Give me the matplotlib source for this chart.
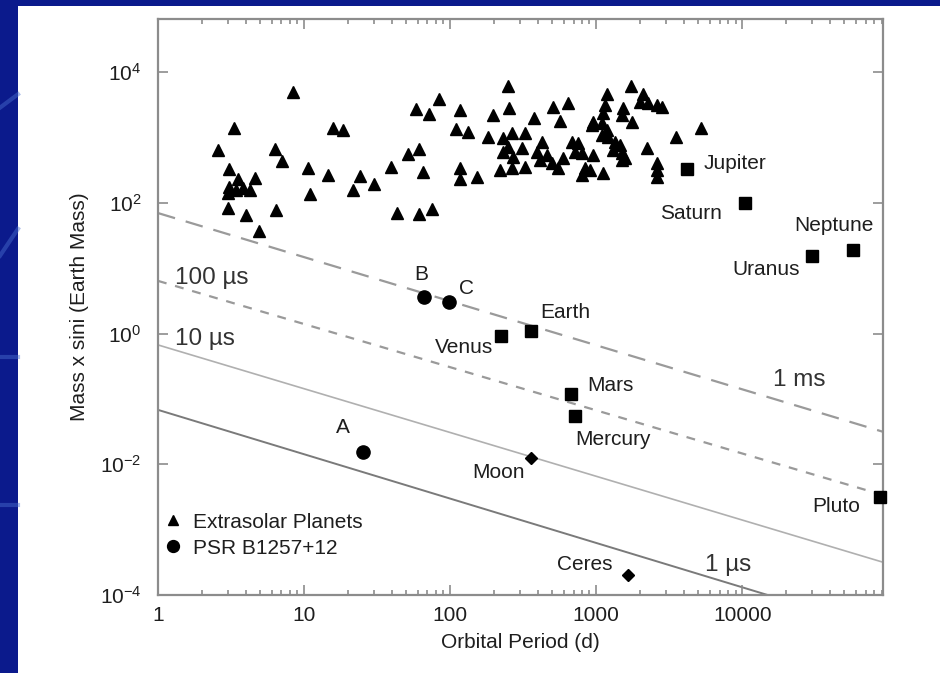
import matplotlib
matplotlib.use("Agg")
import matplotlib.pyplot as plt
from matplotlib.patches import Rectangle
from matplotlib.lines import Line2D
from matplotlib.ticker import LogLocator, NullLocator, NullFormatter

plt.rcParams['font.family'] = ['Liberation Sans', 'DejaVu Sans']
plt.rcParams['mathtext.fontset'] = 'custom'
plt.rcParams['mathtext.rm'] = 'Liberation Sans'
plt.rcParams['mathtext.it'] = 'Liberation Sans'

# ---------------- data ----------------
ext_P = [8.4, 3.3, 2.58, 6.3, 7.1, 10.6, 14.6, 3.06, 3.53, 4.6,
         3.06, 3.42, 4.27, 3.02, 3.82, 11.0, 3.02, 4.0, 6.4, 4.9,
         15.8, 18.5, 24.2, 21.7, 30, 39.4, 51.6, 61.3, 65.3, 43.4,
         61.3, 75.3, 58.5, 71.8, 84, 117, 110, 133, 117, 117,
         153, 197, 250, 254, 376, 508, 643, 567, 940, 182,
         231, 266, 326, 250, 311, 231, 270, 427, 394, 462,
         413, 500, 549, 594, 685, 753, 718, 802, 220, 266,
         326, 841, 802, 953, 1740, 1190, 2100, 2000, 2270, 2620,
         2830, 1150, 1120, 1530, 1510, 1760, 953, 1100, 1190, 1100,
         1210, 1350, 1460, 1310, 1510, 1580, 1510, 2240, 3530, 5240,
         910, 1120, 2620, 2620, 2620]
ext_M = [4900, 1390, 640, 665, 435, 340, 266, 330, 231, 240,
         175, 157, 157, 141, 168, 136, 83, 65, 78, 37,
         1390, 1300, 257, 157, 194, 352, 557, 665, 296, 70,
         67, 80, 2720, 2280, 3860, 2620, 1340, 1210, 340, 231,
         248, 2200, 6100, 2820, 1980, 2920, 3360, 1780, 1550, 1010,
         980, 1170, 1170, 713, 689, 598, 500, 850, 598, 538,
         451, 406, 340, 484, 850, 820, 598, 577, 318, 340,
         352, 340, 266, 538, 6100, 4610, 4610, 3470, 3360, 3130,
         2920, 3130, 2360, 2820, 2200, 1720, 1720, 1660, 1300, 1090,
         1010, 850, 766, 640, 577, 484, 451, 689, 1010, 1390,
         318, 286, 406, 318, 248]

planet_names = ['Jupiter', 'Saturn', 'Uranus', 'Neptune', 'Pluto',
                'Earth', 'Venus', 'Mars', 'Mercury']
planet_P = [4200, 10500, 30100, 57500, 88000, 359, 223, 674, 718]
planet_M = [330, 100, 15.4, 19, 0.0032, 1.1, 0.92, 0.119, 0.055]

minor_names = ['Moon', 'Ceres']
minor_P = [359, 1660]
minor_M = [0.0125, 0.000204]

psr_names = ['A', 'B', 'C']
psr_P = [25.4, 66.4, 98.4]
psr_M = [0.0155, 3.63, 3.04]

# timing-precision lines: mass at P = 1 d and P = 1e5 d
line_names = ['1 ms', '100 µs', '10 µs', '1 µs']
line_P = [1, 1e5]
line_M_start = [69.8, 6.4, 0.67, 0.068]
line_M_end = [0.0297, 0.0032, 0.0003, 2.75e-5]

xtick_vals = [1, 10, 100, 1000, 10000]
xtick_labels = ['1', '10', '100', '1000', '10000']
ytick_vals = [1e-4, 1e-2, 1, 1e2, 1e4]
ytick_labels = ['$10^{-4}$', '$10^{-2}$', '$10^{0}$', '$10^{2}$', '$10^{4}$']

# ---------------- figure ----------------
W, H = 940, 673
fig = plt.figure(figsize=(W / 100, H / 100), dpi=100)
fig.patch.set_facecolor('white')
blue = '#0b1a8c'
fig.patches.append(Rectangle((0, 0), 18 / W, 1, transform=fig.transFigure,
                             facecolor=blue, edgecolor='none', zorder=-10))
fig.patches.append(Rectangle((0, 1 - 6 / H), 1, 6 / H, transform=fig.transFigure,
                             facecolor=blue, edgecolor='none', zorder=-10))
for y0, y1 in [(0.84, 0.86), (0.62, 0.66), (0.47, 0.47), (0.25, 0.25)]:
    fig.lines.append(Line2D([0, 18 / W], [y0, y1], transform=fig.transFigure,
                            color='#4a6fd0', lw=3, alpha=0.45, zorder=-9))

ax = fig.add_axes([158 / W, 1 - 595 / H, 725 / W, 576 / H])
ax.set_xscale('log')
ax.set_yscale('log')
ax.set_xlim(1, 9.2e4)
ax.set_ylim(1e-4, 6.5e4)

txt = '#1e1e1e'
fs = 15

# lines
line_styles = [dict(color='#9a9a9a', lw=1.6, dashes=(8, 5)),
               dict(color='#9a9a9a', lw=1.6, dashes=(4, 4)),
               dict(color='#b0b0b0', lw=1.2),
               dict(color='#7a7a7a', lw=1.4)]
for m0, m1, st in zip(line_M_start, line_M_end, line_styles):
    ax.plot(line_P, [m0, m1], zorder=1, **st)

line_label_pos = [(0.848, 0.373), (0.023, 0.550), (0.023, 0.444), (0.754, 0.052)]
for name, (lx, ly) in zip(line_names, line_label_pos):
    ax.text(lx, ly, name, transform=ax.transAxes, fontsize=17.5, color='#333333',
            ha='left', va='center')

# markers
ax.plot(ext_P, ext_M, linestyle='none', marker='^', ms=8, color='black',
        label='Extrasolar Planets', zorder=3)
ax.plot(psr_P, psr_M, linestyle='none', marker='o', ms=9.5, color='black',
        label='PSR B1257+12', zorder=3)
ax.plot(planet_P, planet_M, linestyle='none', marker='s', ms=8, color='black',
        zorder=3, clip_on=False)
ax.plot(minor_P, minor_M, linestyle='none', marker='D', ms=6, color='black',
        zorder=3)

# labels (offsets in pixels)
planet_off = [(16, 5, 'left'), (-23, -11, 'right'), (-12, -14, 'right'),
              (-19, 24, 'center'), (-20, -10, 'right'), (9, 18, 'left'),
              (-8, -12, 'right'), (16, 8, 'left'), (0, -24, 'left')]
for n, p, m, (dx, dy, ha) in zip(planet_names, planet_P, planet_M, planet_off):
    ax.annotate(n, (p, m), xytext=(dx, dy), textcoords='offset pixels',
                fontsize=fs, color=txt, ha=ha, va='center')
minor_off = [(-6, -15, 'right'), (-16, 10, 'right')]
for n, p, m, (dx, dy, ha) in zip(minor_names, minor_P, minor_M, minor_off):
    ax.annotate(n, (p, m), xytext=(dx, dy), textcoords='offset pixels',
                fontsize=fs, color=txt, ha=ha, va='center')
psr_off = [(-20, 24, 'center'), (-3, 22, 'center'), (17, 14, 'center')]
for n, p, m, (dx, dy, ha) in zip(psr_names, psr_P, psr_M, psr_off):
    ax.annotate(n, (p, m), xytext=(dx, dy), textcoords='offset pixels',
                fontsize=fs, color=txt, ha=ha, va='center')

# axes styling
spine_c = '#8c8c8c'
for s in ax.spines.values():
    s.set_color(spine_c)
    s.set_linewidth(1.6)
ax.set_xticks(xtick_vals, xtick_labels)
ax.xaxis.set_minor_locator(LogLocator(base=10, subs=[2, 3, 4, 5, 6, 7, 8, 9], numticks=20))
ax.xaxis.set_minor_formatter(NullFormatter())
ax.set_yticks(ytick_vals, ytick_labels)
ax.yaxis.set_minor_locator(NullLocator())
ax.tick_params(which='both', direction='in', top=True, right=True, color=spine_c,
               width=1.2, labelcolor=txt, labelsize=fs)
ax.tick_params(which='major', length=7)
ax.tick_params(which='minor', length=3.5)
ax.tick_params(axis='x', pad=8)
ax.tick_params(axis='y', pad=12)

ax.set_xlabel('Orbital Period (d)', fontsize=fs, color=txt, labelpad=6)
ax.set_ylabel('Mass x sini (Earth Mass)', fontsize=fs, color=txt, labelpad=8)

ax.legend(loc='center left', bbox_to_anchor=(0.009, 0.104), frameon=False,
          fontsize=fs, handlelength=0.8, handletextpad=0.56, labelspacing=0.34,
          borderpad=0, borderaxespad=0, markerscale=0.9, labelcolor=txt)

fig.savefig('out.png', dpi=100, facecolor=fig.get_facecolor())
